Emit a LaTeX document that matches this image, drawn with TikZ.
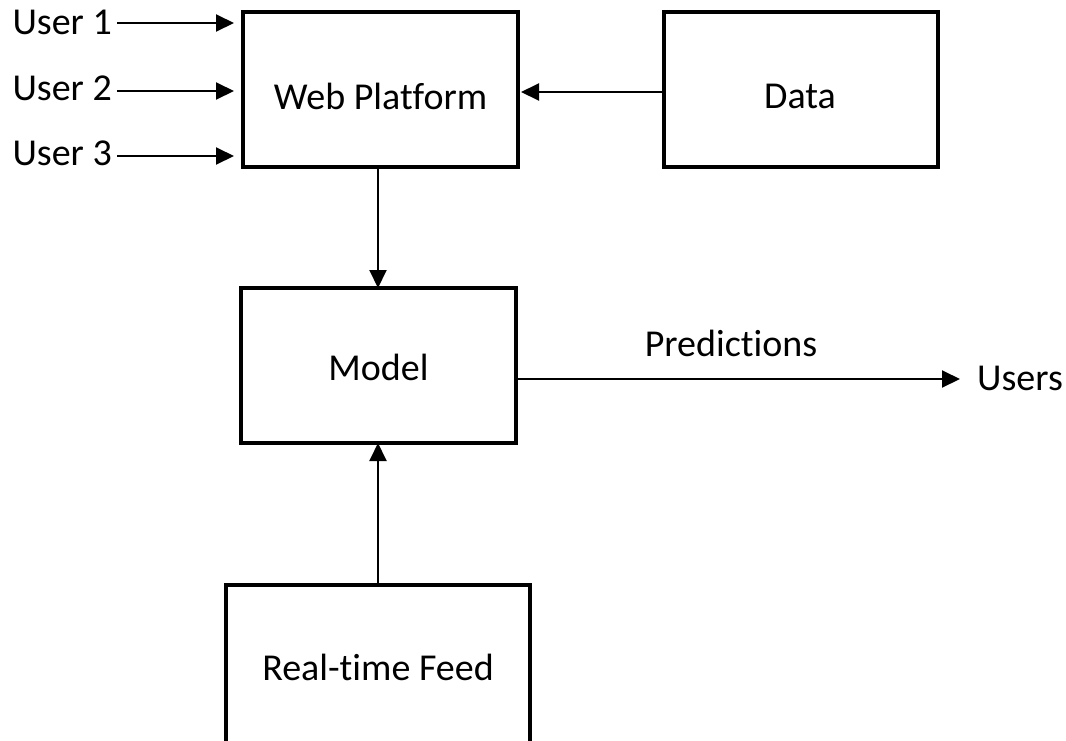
\documentclass[tikz,border=0pt]{standalone}
\usepackage{fontspec}
\setmainfont[Ligatures={NoCommon}]{Carlito}
\usetikzlibrary{arrows.meta}
\begin{document}
\begin{tikzpicture}[x=1pt,y=-1pt,
  box/.style={draw,line width=3.5pt,inner sep=0pt},
  flow/.style={line width=2pt,-{Triangle[length=18pt,width=17pt]}},
  lbl/.style={inner sep=0pt,font=\fontsize{38}{44}\selectfont}]
\clip (0,0) rectangle (1066,740);
\fill[white] (0,0) rectangle (1066,740);
% boxes
\draw[box] (243,12) rectangle (518,167);
\node[lbl] (web) at (380.5,96) {Web Platform};
\draw[box] (664,12) rectangle (938,167);
\node[lbl] (data) at (800,96) {Data};
\draw[box] (241,288) rectangle (516,443);
\node[lbl] (model) at (378.5,367) {Model};
\draw[box] (226,585) rectangle (530,760);
\node[lbl] (feed) at (378,667) {Real-time Feed};
% anchors on box edges
\coordinate (webB) at (378,167);
\coordinate (modelT) at (378,288);
\coordinate (modelB) at (378,443);
\coordinate (modelR) at (516,379);
\coordinate (feedT) at (378,585);
\coordinate (dataW) at (664,92);
\coordinate (webE) at (521,92);
% users
\node[lbl,anchor=east] (u1) at (112,22) {User 1};
\node[lbl,anchor=east] (u2) at (112,88) {User 2};
\node[lbl,anchor=east] (u3) at (112,153) {User 3};
\coordinate (t1) at (234,23);
\coordinate (t2) at (234,91);
\coordinate (t3) at (234,156);
\draw[flow] (u1.east |- t1) ++(5,0) -- (t1);
\draw[flow] (u2.east |- t2) ++(5,0) -- (t2);
\draw[flow] (u3.east |- t3) ++(5,0) -- (t3);
% connectors
\draw[flow] (dataW) -- (webE);
\draw[flow] (webB) -- (modelT);
\draw[flow] (feedT) -- (modelB);
\node[lbl,anchor=west] (users) at (977,378) {Users};
\coordinate (usersTip) at (960,379);
\draw[flow] (modelR) -- (usersTip);
\node[lbl] (pred) at (731,343) {Predictions};
\end{tikzpicture}
\end{document}
